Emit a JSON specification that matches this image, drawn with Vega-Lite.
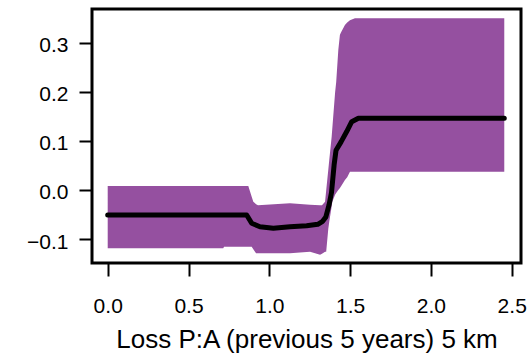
{
  "$schema": "https://vega.github.io/schema/vega-lite/v6.json",
  "width": 429,
  "height": 254,
  "autosize": {"type": "none"},
  "padding": {"left": 92, "top": 9, "right": 11, "bottom": 92},
  "background": "white",
  "config": {
    "view": {"stroke": "black", "strokeWidth": 3},
    "font": "Liberation Sans",
    "axis": {
      "domain": false,
      "grid": false,
      "tickColor": "black",
      "tickWidth": 2,
      "tickSize": 13,
      "labelColor": "black",
      "labelFontSize": 21,
      "labelFlush": false,
      "labelOverlap": false,
      "titleColor": "black",
      "titleFontWeight": "normal"
    }
  },
  "datasets": {
    "ribbon": [
      {"x": 0.000, "hi": 0.008, "lo": -0.119},
      {"x": 0.715, "hi": 0.008, "lo": -0.119},
      {"x": 0.720, "hi": 0.008, "lo": -0.116},
      {"x": 0.870, "hi": 0.008, "lo": -0.116},
      {"x": 0.891, "hi": -0.014, "lo": -0.116},
      {"x": 0.901, "hi": -0.024, "lo": -0.121},
      {"x": 0.918, "hi": -0.029, "lo": -0.129},
      {"x": 0.930, "hi": -0.031, "lo": -0.129},
      {"x": 1.128, "hi": -0.027, "lo": -0.129},
      {"x": 1.252, "hi": -0.030, "lo": -0.126},
      {"x": 1.314, "hi": -0.031, "lo": -0.132},
      {"x": 1.326, "hi": -0.031, "lo": -0.130},
      {"x": 1.345, "hi": -0.024, "lo": -0.126},
      {"x": 1.352, "hi": -0.001, "lo": -0.126},
      {"x": 1.365, "hi": 0.041, "lo": -0.079},
      {"x": 1.371, "hi": 0.061, "lo": -0.065},
      {"x": 1.386, "hi": 0.109, "lo": -0.033},
      {"x": 1.390, "hi": 0.126, "lo": -0.024},
      {"x": 1.407, "hi": 0.198, "lo": -0.010},
      {"x": 1.414, "hi": 0.220, "lo": -0.006},
      {"x": 1.427, "hi": 0.285, "lo": 0.000},
      {"x": 1.437, "hi": 0.316, "lo": 0.004},
      {"x": 1.445, "hi": 0.322, "lo": 0.008},
      {"x": 1.468, "hi": 0.336, "lo": 0.020},
      {"x": 1.482, "hi": 0.341, "lo": 0.026},
      {"x": 1.499, "hi": 0.346, "lo": 0.037},
      {"x": 1.530, "hi": 0.350, "lo": 0.037},
      {"x": 2.454, "hi": 0.350, "lo": 0.037}
    ],
    "fit": [
      {"x": 0.000, "fit": -0.051},
      {"x": 0.860, "fit": -0.051},
      {"x": 0.891, "fit": -0.068},
      {"x": 0.942, "fit": -0.075},
      {"x": 1.025, "fit": -0.078},
      {"x": 1.128, "fit": -0.075},
      {"x": 1.231, "fit": -0.073},
      {"x": 1.300, "fit": -0.070},
      {"x": 1.330, "fit": -0.064},
      {"x": 1.350, "fit": -0.055},
      {"x": 1.370, "fit": -0.030},
      {"x": 1.385, "fit": -0.005},
      {"x": 1.401, "fit": 0.051},
      {"x": 1.413, "fit": 0.081},
      {"x": 1.444, "fit": 0.098},
      {"x": 1.479, "fit": 0.119},
      {"x": 1.510, "fit": 0.139},
      {"x": 1.551, "fit": 0.146},
      {"x": 2.454, "fit": 0.146}
    ]
  },
  "layer": [
    {
      "data": {"name": "ribbon"},
      "mark": {"type": "area", "color": "#9550A0", "opacity": 1},
      "encoding": {
        "x": {
          "field": "x",
          "type": "quantitative",
          "scale": {"domain": [-0.0972, 2.5575], "nice": false, "zero": false},
          "axis": {
            "values": [0, 0.5, 1, 1.5, 2, 2.5],
            "format": ".1f",
            "labelPadding": 19,
            "title": "Loss P:A (previous 5 years) 5 km",
            "titleFontSize": 26,
            "titlePadding": 10
          }
        },
        "y": {
          "field": "hi",
          "type": "quantitative",
          "scale": {"domain": [-0.1489, 0.3687], "nice": false, "zero": false},
          "axis": {
            "values": [-0.1, 0, 0.1, 0.2, 0.3],
            "format": ".1f",
            "labelPadding": 11,
            "labelOffset": 3,
            "title": null
          }
        },
        "y2": {"field": "lo"}
      }
    },
    {
      "data": {"name": "fit"},
      "mark": {"type": "line", "color": "black", "strokeWidth": 5, "strokeCap": "round", "strokeJoin": "round"},
      "encoding": {
        "x": {"field": "x", "type": "quantitative"},
        "y": {"field": "fit", "type": "quantitative"}
      }
    }
  ]
}
